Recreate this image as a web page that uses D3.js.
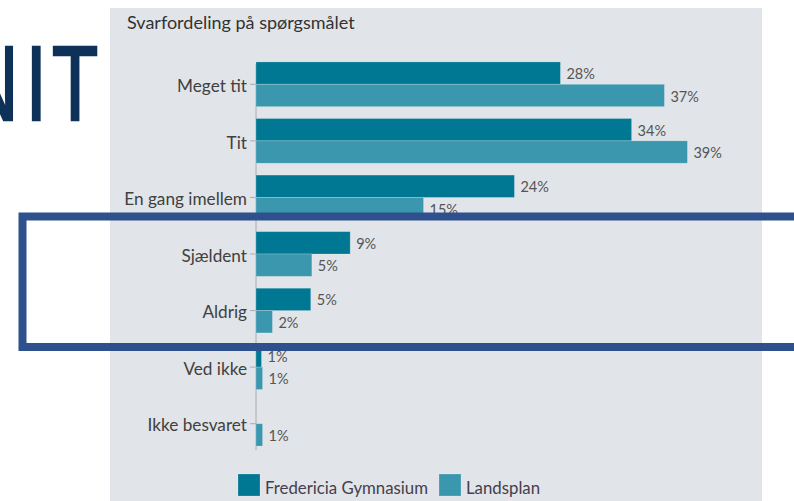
<!DOCTYPE html>
<html>
<head>
<meta charset="utf-8">
<script src="https://cdn.jsdelivr.net/npm/d3@7/dist/d3.min.js"></script>
<style>
  html, body { margin: 0; padding: 0; background: #ffffff; }
  svg { display: block; }
</style>
</head>
<body>
<svg id="chart" width="794" height="501"></svg>
<script>
// ---- data ----
const categories = ["Meget tit", "Tit", "En gang imellem", "Sjældent", "Aldrig", "Ved ikke", "Ikke besvaret"];
const seriesNames = ["Fredericia Gymnasium", "Landsplan"];
const fredericiaValues = [27.8, 34.3, 23.6, 8.6, 5.0, 0.5, null];
const landsplanValues = [37.3, 39.4, 15.3, 5.1, 1.5, 0.6, 0.6];
const chartTitle = "Svarfordeling på spørgsmålet";
const bgWord = "NIT";

// ---- styling ----
const colors = ["#007893", "#3a97ae"];
const svg = d3.select("#chart");
const fontFam = "Lato, 'Open Sans', sans-serif";

// background word
const word = svg.append("g").attr("transform", "scale(0.72,1)");
const letterCenters = [-9, 36.3, 75];
word.append("text")
  .attr("y", 120.5)
  .attr("font-family", "'Liberation Sans', Arial, sans-serif")
  .attr("font-size", 105)
  .attr("fill", "#0d3158")
  .attr("stroke", "#0d3158")
  .attr("stroke-width", 2.4)
  .attr("text-anchor", "middle")
  .selectAll("tspan")
  .data(bgWord.split(""))
  .join("tspan")
  .attr("x", (d, i) => letterCenters[i] / 0.72)
  .text(d => d);

// panel
svg.append("rect")
  .attr("x", 110).attr("y", 8).attr("width", 652).attr("height", 493)
  .attr("fill", "#e1e4e8");

svg.append("text")
  .attr("x", 127).attr("y", 28.5)
  .attr("font-family", fontFam).attr("font-size", 18)
  .attr("fill", "#333333")
  .text(chartTitle);

// scales
const x = d3.scaleLinear().domain([0, 40]).range([256, 256 + 438]);
const y = d3.scaleBand().domain(categories).range([56, 452])
  .paddingInner(0.21).paddingOuter(0.105);
const ySub = d3.scaleBand().domain(seriesNames).range([0, y.bandwidth()]);

const rows = categories.map((c, i) => ({
  cat: c,
  vals: [fredericiaValues[i], landsplanValues[i]]
}));

// axis
const axis = d3.axisLeft(y).tickSizeOuter(0).tickSize(6).tickPadding(3);
const gAxis = svg.append("g").attr("transform", `translate(${x(0)},0)`).call(axis);
gAxis.select(".domain").attr("stroke", "#a8acb0")
  .attr("d", `M0,${y(categories[0]) + 2}V${y(categories[categories.length - 1]) + y.bandwidth() + 4}`);
gAxis.selectAll(".tick line").attr("stroke", "#a8acb0");
gAxis.selectAll(".tick text")
  .attr("font-family", fontFam).attr("font-size", 17.2)
  .attr("dy", "0.45em")
  .attr("fill", "#404040");

// bars
const groups = svg.append("g").selectAll("g")
  .data(rows).join("g")
  .attr("transform", d => `translate(0,${y(d.cat)})`);

const items = d => d.vals.map((v, j) => ({ v, s: seriesNames[j], j })).filter(e => e.v != null);

groups.selectAll("rect")
  .data(items).join("rect")
  .attr("x", x(0))
  .attr("y", d => ySub(d.s))
  .attr("width", d => x(d.v) - x(0))
  .attr("height", ySub.bandwidth())
  .attr("fill", d => colors[d.j])
  .attr("stroke", "rgba(255,255,255,0.25)")
  .attr("stroke-width", 0.8);

groups.selectAll("text.val")
  .data(items).join("text")
  .attr("class", "val")
  .attr("x", d => x(d.v) + 6)
  .attr("y", d => ySub(d.s) + ySub.bandwidth() / 2 + 1)
  .attr("dy", "0.35em")
  .attr("font-family", fontFam).attr("font-size", 14.5)
  .attr("fill", "#555555")
  .text(d => Math.round(d.v) + "%");

// legend
const legend = svg.append("g").attr("transform", "translate(238,474)");
const lx = [0, 201];
seriesNames.forEach((s, i) => {
  const g = legend.append("g").attr("transform", `translate(${lx[i]},0)`);
  g.append("rect").attr("width", 22).attr("height", 22).attr("fill", colors[i])
    .attr("stroke", "rgba(255,255,255,0.25)").attr("stroke-width", 0.8);
  g.append("text").attr("x", 27).attr("y", 19.5)
    .attr("font-family", fontFam).attr("font-size", 16.8)
    .attr("fill", "#45404c").text(s);
});

// highlight frame
svg.append("rect")
  .attr("x", 22.5).attr("y", 216.5).attr("width", 820).attr("height", 130.5)
  .attr("fill", "none").attr("stroke", "#2e508c").attr("stroke-width", 8);
</script>
</body>
</html>
